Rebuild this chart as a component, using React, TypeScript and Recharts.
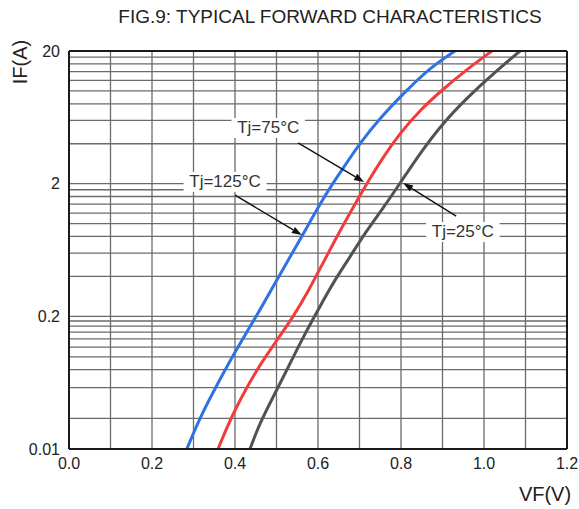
import React from "react";
import {
  LineChart,
  Line,
  XAxis,
  YAxis,
  CartesianGrid,
  ReferenceLine,
  ReferenceDot,
} from "recharts";

const FONT = '"Liberation Sans", Arial, sans-serif';

// axis ticks / grid
const VF_TICKS = [0, 0.2, 0.4, 0.6, 0.8, 1.0, 1.2];
const VF_GRID = [0.1, 0.2, 0.3, 0.4, 0.5, 0.6, 0.7, 0.8, 0.9, 1.0, 1.1];
const IF_TICKS = [0.01, 0.2, 2, 20];
const IF_TICK_LABELS = ["0.01", "0.2", "2", "20"];
const IF_GRID = [
  0.02, 0.04, 0.06, 0.08, 0.1, 0.12, 0.14, 0.16, 0.18, 0.2,
  0.4, 0.6, 0.8, 1.0, 1.2, 1.4, 1.6, 1.8, 2,
  4, 6, 8, 10, 12, 14, 16, 18,
];

// Tj = 125°C
const VF_125 = [0.284, 0.316, 0.354, 0.393, 0.427, 0.46, 0.501, 0.542, 0.566, 0.6, 0.636, 0.658, 0.701, 0.752, 0.807, 0.872, 0.93];
const IF_125 = [0.01, 0.0206, 0.0406, 0.0798, 0.137, 0.223, 0.376, 0.632, 0.85, 1.33, 2.02, 2.54, 4.05, 6.36, 9.65, 15.15, 20];
// Tj = 75°C
const VF_75 = [0.359, 0.381, 0.4, 0.429, 0.463, 0.501, 0.54, 0.578, 0.607, 0.641, 0.677, 0.718, 0.757, 0.798, 0.846, 0.899, 0.957, 1.019];
const IF_75 = [0.01, 0.0164, 0.0241, 0.0406, 0.0697, 0.117, 0.197, 0.316, 0.471, 0.752, 1.2, 2.02, 3.18, 4.82, 7.19, 10.16, 14.39, 20];
// Tj = 25°C
const VF_25 = [0.436, 0.46, 0.492, 0.525, 0.564, 0.6, 0.636, 0.677, 0.713, 0.757, 0.798, 0.846, 0.901, 0.961, 1.024, 1.087];
const IF_25 = [0.01, 0.018, 0.0324, 0.0595, 0.125, 0.223, 0.357, 0.56, 0.85, 1.31, 2.02, 3.4, 5.73, 9.0, 13.65, 20];

const SERIES_LABELS = ["Tj=125°C", "Tj=75°C", "Tj=25°C"];
const SERIES_COLORS = ["#2f72e4", "#f23c3c", "#525252"];

// annotation label centres and arrows (VF, IF)
const LABEL_VF = [0.376, 0.48, 0.949];
const LABEL_IF = [2.06, 5.26, 0.865];
const ARROW_FROM_VF = [0.4, 0.552, 0.933];
const ARROW_FROM_IF = [1.64, 4.06, 1.14];
const ARROW_TO_VF = [0.561, 0.711, 0.805];
const ARROW_TO_IF = [0.82, 2.06, 2.02];

// the datasheet gives each labelled span (0.01-0.2, 0.2-2, 2-20) the same height
function toU(a: number) {
  const n = IF_TICKS.length;
  for (let i = 0; i < n - 1; i++) {
    const lo = IF_TICKS[i];
    const hi = IF_TICKS[i + 1];
    if (a <= hi || i === n - 2) return i + Math.log(a / lo) / Math.log(hi / lo);
  }
  return 0;
}

const toRows = (vf: number[], amps: number[]) =>
  vf.map((v, i) => ({ vf: v, u: toU(amps[i]) }));

const SERIES = [toRows(VF_125, IF_125), toRows(VF_75, IF_75), toRows(VF_25, IF_25)];

const tickStyle = { fontSize: 16, fill: "#222", fontFamily: FONT };

function Arrow(props: any) {
  const { x1, y1, x2, y2 } = props;
  const ang = Math.atan2(y2 - y1, x2 - x1);
  const len = 10;
  const w = 3.5;
  const bx = x2 - len * Math.cos(ang);
  const by = y2 - len * Math.sin(ang);
  const px = -Math.sin(ang) * w;
  const py = Math.cos(ang) * w;
  return (
    <g>
      <line x1={x1} y1={y1} x2={bx} y2={by} stroke="#111" strokeWidth={1.4} />
      <polygon
        points={`${x2},${y2} ${bx + px},${by + py} ${bx - px},${by - py}`}
        fill="#111"
      />
    </g>
  );
}

function makeLabel(text: string) {
  return (props: any) => {
    const { cx, cy } = props;
    const w = text.length * 9.5 + 7;
    return (
      <g>
        <rect x={cx - w / 2} y={cy - 10} width={w} height={20} fill="#fff" />
        <text
          x={cx}
          y={cy}
          textAnchor="middle"
          dominantBaseline="central"
          fontSize={17}
          fontFamily={FONT}
          fill="#333"
        >
          {text}
        </text>
      </g>
    );
  };
}

export default function App() {
  return (
    <div style={{ position: "absolute", left: 0, top: 0, width: 579, height: 509, background: "#fff", fontFamily: FONT }}>
      <div
        style={{
          position: "absolute",
          left: 100,
          width: 460,
          top: 6,
          textAlign: "center",
          fontSize: 19,
          color: "#222",
          whiteSpace: "nowrap",
        }}
      >
        FIG.9: TYPICAL FORWARD CHARACTERISTICS
      </div>
      <div
        style={{
          position: "absolute",
          left: 20,
          top: 62,
          transform: "translate(-50%, -50%) rotate(-90deg)",
          fontSize: 20,
          color: "#222",
          whiteSpace: "nowrap",
        }}
      >
        IF(A)
      </div>
      <div
        style={{
          position: "absolute",
          left: 545,
          top: 494,
          transform: "translate(-50%, -50%)",
          fontSize: 20,
          color: "#222",
          whiteSpace: "nowrap",
        }}
      >
        VF(V)
      </div>
      <LineChart width={579} height={509} margin={{ top: 51, right: 12, bottom: 0, left: 0 }}>
        <CartesianGrid
          stroke="#6b6b6b"
          strokeWidth={1.3}
          horizontalValues={IF_GRID.map(toU)}
          verticalValues={VF_GRID}
        />
        <XAxis
          type="number"
          dataKey="vf"
          domain={[0, 1.2]}
          ticks={VF_TICKS}
          tickFormatter={(v: number) => v.toFixed(1)}
          axisLine={false}
          tickLine={false}
          tickSize={0}
          tickMargin={9}
          height={60}
          tick={tickStyle}
          interval={0}
          allowDataOverflow
        />
        <YAxis
          type="number"
          dataKey="u"
          domain={[0, 3]}
          ticks={[0, 1, 2, 3]}
          tickFormatter={(u: number) => IF_TICK_LABELS[Math.round(u)]}
          axisLine={false}
          tickLine={false}
          tickSize={0}
          tickMargin={9}
          width={69}
          tick={tickStyle}
          interval={0}
          allowDataOverflow
        />
        {SERIES_LABELS.map((name, i) => (
          <ReferenceDot
            key={"lbl" + i}
            x={LABEL_VF[i]}
            y={toU(LABEL_IF[i])}
            r={0}
            shape={makeLabel(name)}
          />
        ))}
        {SERIES.map((rows, i) => (
          <Line
            key={SERIES_LABELS[i]}
            data={rows}
            dataKey="u"
            name={SERIES_LABELS[i]}
            type="basis"
            stroke={SERIES_COLORS[i]}
            strokeWidth={3}
            dot={false}
            isAnimationActive={false}
          />
        ))}
        {SERIES_LABELS.map((name, i) => (
          <ReferenceLine
            key={"arr" + i}
            segment={[
              { x: ARROW_FROM_VF[i], y: toU(ARROW_FROM_IF[i]) },
              { x: ARROW_TO_VF[i], y: toU(ARROW_TO_IF[i]) },
            ]}
            shape={Arrow}
          />
        ))}
        <ReferenceLine x={0} stroke="#1a1a1a" strokeWidth={2} />
        <ReferenceLine x={1.2} stroke="#1a1a1a" strokeWidth={2} />
        <ReferenceLine y={0} stroke="#1a1a1a" strokeWidth={2} />
        <ReferenceLine y={3} stroke="#1a1a1a" strokeWidth={2} />
      </LineChart>
    </div>
  );
}
